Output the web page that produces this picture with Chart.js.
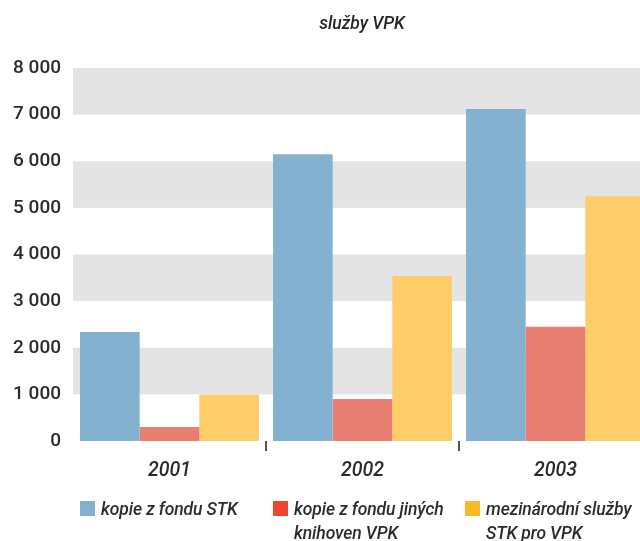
<!DOCTYPE html>
<html>
<head>
<meta charset="utf-8">
<script src="https://cdn.jsdelivr.net/npm/chart.js@4/dist/chart.umd.min.js"></script>
<style>
  html, body { margin: 0; padding: 0; background: #fff; }
  #wrap { position: relative; width: 640px; height: 541px; overflow: hidden; }
  #chart { position: absolute; left: 0; top: 0; }
  #legend { position: absolute; left: 0; top: 0; width: 640px; height: 541px; pointer-events: none; }
  .item { position: absolute; top: 497px; display: flex; align-items: flex-start; }
  .box { width: 15px; height: 15px; margin-top: 4px; margin-right: 6px; flex: none; }
  .txt { font: italic 500 17.5px Roboto, "Liberation Sans", Arial, sans-serif; color: #2b2b2b; line-height: 24px; width: 170px; letter-spacing: -0.1px; }
</style>
</head>
<body>
<div id="wrap">
  <canvas id="chart" width="724" height="541" style="width:724px;height:541px"></canvas>
  <div id="legend"></div>
</div>
<script>
  // roky a hodnoty jednotlivých služeb
  const years = ["2001", "2002", "2003"];
  const kopieSTK = [2340, 6150, 7120];
  const kopieJine = [300, 900, 2450];
  const mezinarodni = [1000, 3540, 5250];
  const seriesNames = ["kopie z fondu STK", "kopie z fondu jiných knihoven VPK", "mezinárodní služby STK pro VPK"];
  const yTicks = [0, 1000, 2000, 3000, 4000, 5000, 6000, 7000, 8000];

  const barColors = ["#84b1cf", "#e67e72", "#fecd6a"];
  const legendColors = ["#84b1cf", "#ef4530", "#fbb829"];
  const legendLeft = [80, 273, 465];

  const fontFamily = "Roboto, 'Liberation Sans', Arial, sans-serif";
  const fmt = v => String(v).replace(/\B(?=(\d{3})+(?!\d))/g, " ");

  // šedé pruhy 1000-2000, 3000-4000 ...
  const bands = {
    id: "bands",
    beforeDatasetsDraw(chart) {
      const { ctx, chartArea, scales } = chart;
      const y = scales.y;
      ctx.save();
      ctx.fillStyle = "#e4e4e4";
      for (let i = 1; i < yTicks.length - 1; i += 2) {
        const top = y.getPixelForValue(yTicks[i + 1]);
        const bottom = y.getPixelForValue(yTicks[i]);
        ctx.fillRect(chartArea.left, top, chart.width - chartArea.left, bottom - top);
      }
      ctx.restore();
    }
  };

  const ctx = document.getElementById("chart").getContext("2d");
  new Chart(ctx, {
    type: "bar",
    data: {
      labels: years,
      datasets: [
        { label: seriesNames[0], data: kopieSTK, backgroundColor: barColors[0] },
        { label: seriesNames[1], data: kopieJine, backgroundColor: barColors[1] },
        { label: seriesNames[2], data: mezinarodni, backgroundColor: barColors[2] }
      ]
    },
    options: {
      responsive: false,
      animation: false,
      devicePixelRatio: 1,
      layout: { padding: 0 },
      datasets: { bar: { categoryPercentage: 0.927, barPercentage: 1, borderWidth: 0 } },
      plugins: {
        legend: { display: false },
        tooltip: { enabled: false },
        title: {
          display: true,
          text: "služby VPK",
          color: "#262626",
          font: { family: fontFamily, size: 17.5, style: "italic", weight: "500" },
          padding: { top: 14, bottom: 33 }
        }
      },
      scales: {
        x: {
          afterFit: s => { s.height = 100; },
          border: { display: false },
          grid: {
            offset: true,
            drawOnChartArea: false,
            drawTicks: true,
            tickLength: 10,
            lineWidth: 2,
            color: c => (c.index === 1 || c.index === 2) ? "#555" : "rgba(0,0,0,0)"
          },
          ticks: {
            color: "#2b2b2b",
            padding: 8,
            font: { family: fontFamily, size: 19.5, style: "italic", weight: "500" }
          }
        },
        y: {
          min: 0,
          max: 8000,
          afterFit: s => { s.width = 73; },
          border: { display: false },
          grid: { display: false, drawTicks: false },
          ticks: {
            stepSize: 1000,
            padding: 12,
            color: "#2b2b2b",
            font: { family: fontFamily, size: 19, weight: "500" },
            callback: v => fmt(v)
          }
        },
        // prázdná osa vpravo, jen kvůli šířce
        yRight: {
          position: "right",
          min: 0,
          max: 8000,
          afterFit: s => { s.width = 72; },
          border: { display: false },
          grid: { display: false, drawTicks: false },
          ticks: { display: false }
        }
      }
    },
    plugins: [bands]
  });

  // legenda (víceřádkové popisky)
  const legend = document.getElementById("legend");
  seriesNames.forEach((name, i) => {
    const item = document.createElement("div");
    item.className = "item";
    item.style.left = legendLeft[i] + "px";
    const box = document.createElement("div");
    box.className = "box";
    box.style.background = legendColors[i];
    const txt = document.createElement("div");
    txt.className = "txt";
    txt.textContent = name;
    item.appendChild(box);
    item.appendChild(txt);
    legend.appendChild(item);
  });
</script>
</body>
</html>
